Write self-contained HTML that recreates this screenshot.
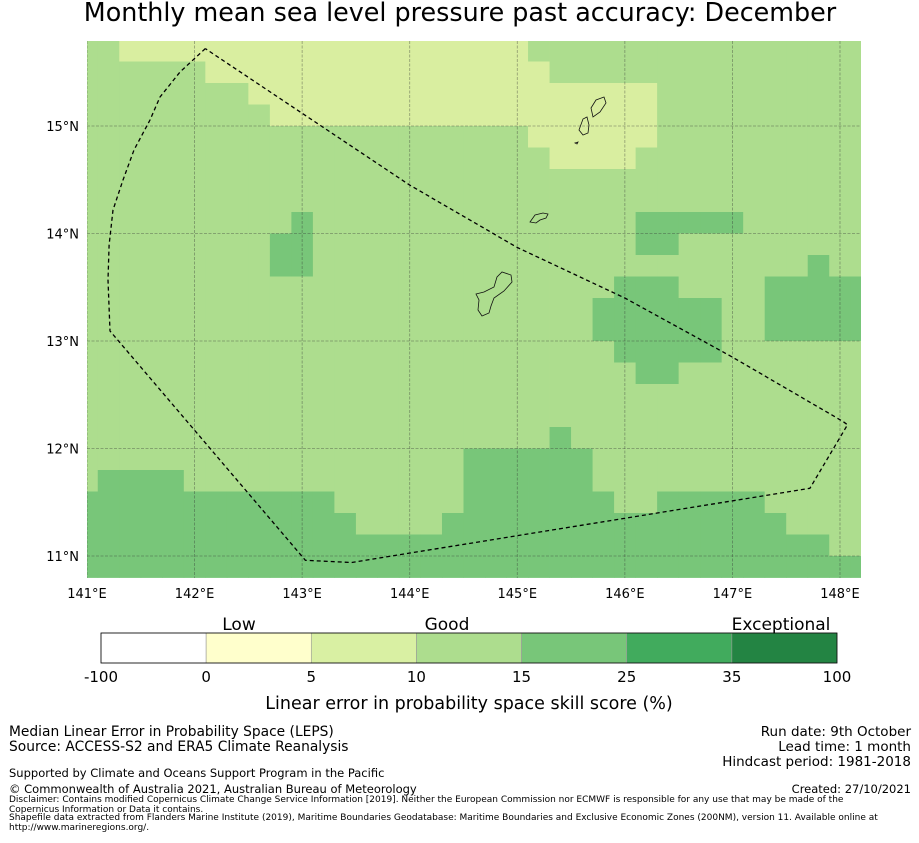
<!DOCTYPE html>
<html><head><meta charset="utf-8"><style>
body{margin:0;background:#fff;width:919px;height:839px;overflow:hidden;font-family:"DejaVu Sans","Liberation Sans",sans-serif}
svg text{font-family:"DejaVu Sans","Liberation Sans",sans-serif}
</style></head><body>
<svg id="s" width="919" height="839" viewBox="0 0 919 839" xmlns="http://www.w3.org/2000/svg">
<defs><clipPath id="mapclip"><rect x="87" y="41" width="774" height="537"/></clipPath></defs>
<text x="460" y="21" text-anchor="middle" font-size="25.4">Monthly mean sea level pressure past accuracy: December</text>
<g id="map" clip-path="url(#mapclip)"></g>
<g id="axes"></g>
<g id="cbar"></g>
</svg>
<div style="position:absolute;left:9px;top:725px;font-size:13.8px;line-height:15px">Median Linear Error in Probability Space (LEPS)<br>Source: ACCESS-S2 and ERA5 Climate Reanalysis</div>
<div style="position:absolute;right:8px;top:725px;font-size:13.5px;line-height:15px;text-align:right">Run date: 9th October<br>Lead time: 1 month<br>Hindcast period: 1981-2018</div>
<div style="position:absolute;left:9px;top:766px;font-size:11.5px">Supported by Climate and Oceans Support Program in the Pacific</div>
<div style="position:absolute;left:9px;top:782px;font-size:11.5px">© Commonwealth of Australia 2021, Australian Bureau of Meteorology</div>
<div style="position:absolute;right:8px;top:782px;font-size:11.5px">Created: 27/10/2021</div>
<div style="position:absolute;left:9px;top:796px;font-size:9px;line-height:9.5px;width:880px">Disclaimer: Contains modified Copernicus Climate Change Service Information [2019]. Neither the European Commission nor ECMWF is responsible for any use that may be made of the Copernicus Information or Data it contains.</div>
<div style="position:absolute;left:9px;top:813px;font-size:9px;line-height:10px;width:905px">Shapefile data extracted from Flanders Marine Institute (2019), Maritime Boundaries Geodatabase: Maritime Boundaries and Exclusive Economic Zones (200NM), version 11. Available online at http://www.marineregions.org/.</div>
<script>
// Skill class per grid cell. Rows top (15.7N) to bottom (10.9N), columns 141.0E..148.2E step 0.2
// Y = 5-10, L = 10-15, M = 15-25
const skillRows = [
"LLYYYYYYYYYYYYYYYYYYYLLLLLLLLLLLLLLLL",
"LLLLLLYYYYYYYYYYYYYYYYLLLLLLLLLLLLLLL",
"LLLLLLLLYYYYYYYYYYYYYYYYYYYLLLLLLLLLL",
"LLLLLLLLLYYYYYYYYYYYYYYYYYYLLLLLLLLLL",
"LLLLLLLLLLLLLLLLLLLLLYYYYYYLLLLLLLLLL",
"LLLLLLLLLLLLLLLLLLLLLLYYYYLLLLLLLLLLL",
"LLLLLLLLLLLLLLLLLLLLLLLLLLLLLLLLLLLLL",
"LLLLLLLLLLLLLLLLLLLLLLLLLLLLLLLLLLLLL",
"LLLLLLLLLLMLLLLLLLLLLLLLLLMMMMMLLLLLL",
"LLLLLLLLLMMLLLLLLLLLLLLLLLMMLLLLLLLLL",
"LLLLLLLLLMMLLLLLLLLLLLLLLLLLLLLLLLMLL",
"LLLLLLLLLLLLLLLLLLLLLLLLLMMMLLLLMMMMM",
"LLLLLLLLLLLLLLLLLLLLLLLLMMMMMMLLMMMMM",
"LLLLLLLLLLLLLLLLLLLLLLLLMMMMMMLLMMMMM",
"LLLLLLLLLLLLLLLLLLLLLLLLLMMMMMLLLLLLL",
"LLLLLLLLLLLLLLLLLLLLLLLLLLMMLLLLLLLLL",
"LLLLLLLLLLLLLLLLLLLLLLLLLLLLLLLLLLLLL",
"LLLLLLLLLLLLLLLLLLLLLLLLLLLLLLLLLLLLL",
"LLLLLLLLLLLLLLLLLLLLLLMLLLLLLLLLLLLLL",
"LLLLLLLLLLLLLLLLLLMMMMMMLLLLLLLLLLLLL",
"LMMMMLLLLLLLLLLLLLMMMMMMLLLLLLLLLLLLL",
"MMMMMMMMMMMMLLLLLLMMMMMMMLLMMMMMLLLLL",
"MMMMMMMMMMMMMLLLLMMMMMMMMMMMMMMMMLLLL",
"MMMMMMMMMMMMMMMMMMMMMMMMMMMMMMMMMMMLL",
"MMMMMMMMMMMMMMMMMMMMMMMMMMMMMMMMMMMMM"
];
const lonStart = 141.0, latTop = 15.7, cellStep = 0.2;
const lonTicks = [141,142,143,144,145,146,147,148];
const latTicks = [11,12,13,14,15];
const cbBounds = [-100,0,5,10,15,25,35,100];
const cbCategoryLabels = ["Low","Good","Exceptional"];
const eezLon = [142.1,141.865,141.679,141.586,141.437,141.335,141.242,141.205,141.195,141.214,143.03,143.46,147.72,148.07,148.03,147.0,146.0,145.0,144.0,142.1];
const eezLat = [15.72,15.502,15.27,15.056,14.777,14.498,14.219,13.893,13.567,13.093,10.96,10.94,11.63,12.22,12.25,12.85,13.4,13.87,14.45,15.72];

const NS="http://www.w3.org/2000/svg";
const X = lon => 87 + (lon-141)*107.57;
const Y = lat => 126 - (lat-15)*107.5;
const colors = {Y:"#d9eea0",L:"#addd8e",M:"#78c679"};
function mk(tag, attrs, parent){const e=document.createElementNS(NS,tag);for(const k in attrs)e.setAttribute(k,attrs[k]);parent.appendChild(e);return e;}
const map=document.getElementById('map'), axes=document.getElementById('axes'), cb=document.getElementById('cbar');

skillRows.forEach((row,j)=>{
  for(let k=0;k<row.length;k++){
    const lon=lonStart+k*cellStep, lat=latTop-j*cellStep;
    const x0=X(lon-cellStep/2), x1=X(lon+cellStep/2), y0=Y(lat+cellStep/2), y1=Y(lat-cellStep/2);
    const r=mk('rect',{x:x0,y:y0,width:x1-x0+0.4,height:y1-y0+0.4,fill:colors[row[k]]},map);
    
    
  }
});
lonTicks.forEach(v=>{
  const l=mk('line',{x1:X(v),x2:X(v),y1:41,y2:578,stroke:"#333","stroke-opacity":0.45,"stroke-width":0.8,"stroke-dasharray":"3,1.5"},map);
  
  
  const t=mk('text',{x:X(v),y:598,"text-anchor":"middle","font-size":13},axes);
  t.textContent=v+"°E";
  
  
});
latTicks.forEach(v=>{
  const l=mk('line',{x1:87,x2:861,y1:Y(v),y2:Y(v),stroke:"#333","stroke-opacity":0.45,"stroke-width":0.8,"stroke-dasharray":"3,1.5"},map);
  
  
  const t=mk('text',{x:79,y:Y(v)+5,"text-anchor":"end","font-size":13},axes);
  t.textContent=v+"°N";
  
  
});
// islands
const islands=["M476,294 L484,292 L494,287 L497,277 L502,272 L511,275 L512,282 L504,291 L494,298 L491,306 L489,313 L482,316 L478,310 L479,300 Z",
"M530,222 L535,215 L543,213 L548,214 L546,218 L540,220 L536,223 Z",
"M579,130 L583,119 L587,117 L589,125 L588,133 L583,135 Z",
"M591,108 L596,100 L604,97 L606,103 L600,112 L593,117 Z",
"M575,143 L578,142 L577,144 Z"];
islands.forEach(d=>{const p=mk('path',{d:d,fill:"none",stroke:"#111","stroke-width":0.8},map);
  
  });
// EEZ
let pts=eezLon.map((v,i)=>X(v).toFixed(1)+","+Y(eezLat[i]).toFixed(1)).join(" ");
const ez=mk('polyline',{points:pts,fill:"none",stroke:"#000","stroke-width":1.3,"stroke-dasharray":"4,3","stroke-linejoin":"round"},map);


// colorbar
const cbColors=["#ffffff","#ffffcc","#d9f0a3","#addd8e","#78c679","#41ab5d","#238443"];
const cbX0=101, cbW=736/7;
for(let i=0;i<7;i++){
  const r=mk('rect',{x:cbX0+i*cbW,y:633,width:cbW,height:30,fill:cbColors[i],stroke:"#999","stroke-width":0.6},cb);
  
  
}
const fr=mk('rect',{x:cbX0,y:633,width:736,height:30,fill:"none",stroke:"#000","stroke-width":0.8},cb);


cbBounds.forEach((v,i)=>{
  const t=mk('text',{x:cbX0+i*cbW,y:682,"text-anchor":"middle","font-size":15},cb);
  t.textContent=v;
  
  
});
[239,447,781].forEach((x,i)=>{
  const t=mk('text',{x:x,y:630,"text-anchor":"middle","font-size":17},cb);
  t.textContent=cbCategoryLabels[i];
  
  
});
const ct=mk('text',{x:469,y:709,"text-anchor":"middle","font-size":17.5},cb);
ct.textContent="Linear error in probability space skill score (%)";


</script>
</body></html>
